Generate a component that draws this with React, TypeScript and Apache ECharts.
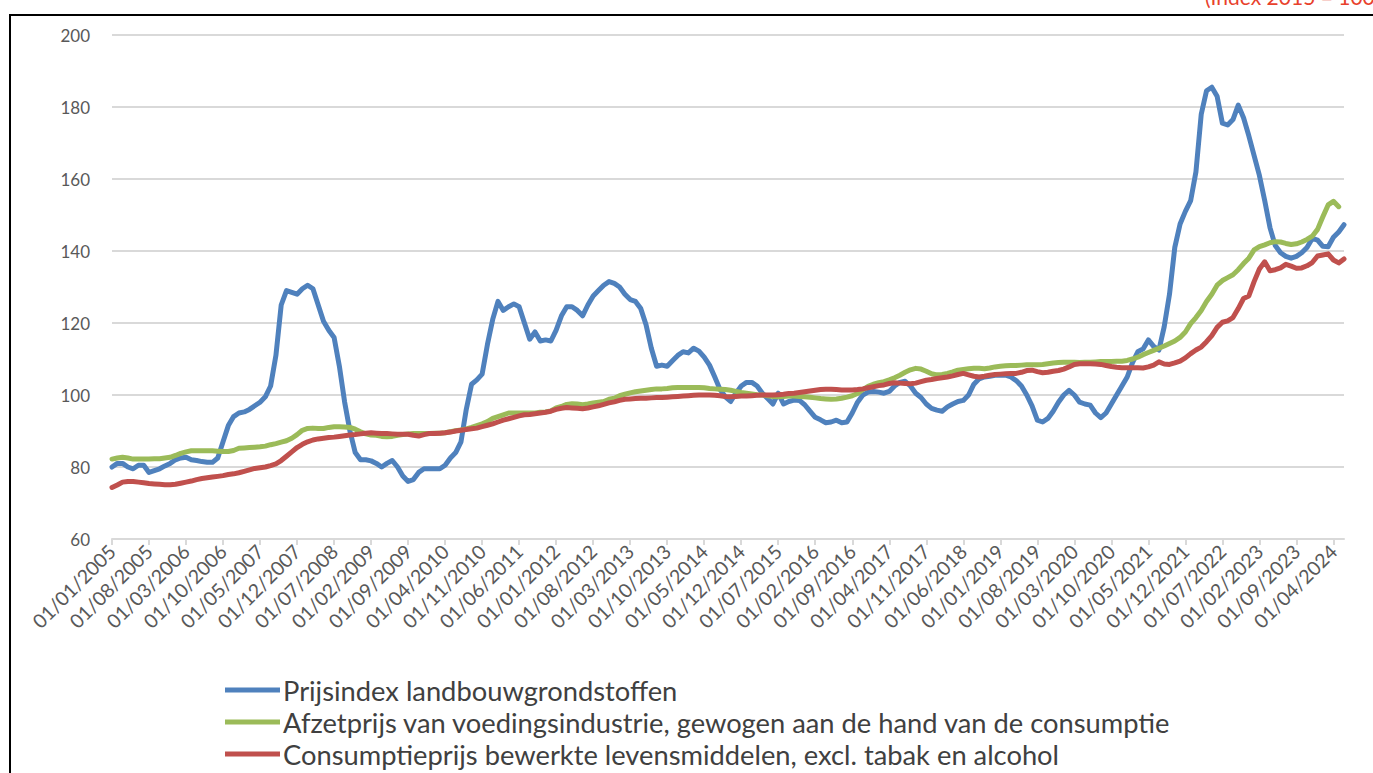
import React, { useEffect, useRef } from "react";
import * as echarts from "echarts";

const startYear = 2005;
const monthCount = 234;
const categories: string[] = Array.from({ length: monthCount }, (_, i) => {
  const m = (i % 12) + 1;
  const y = startYear + Math.floor(i / 12);
  return `01/${m < 10 ? "0" + m : m}/${y}`;
});

const seriesNames = [
  "Prijsindex landbouwgrondstoffen",
  "Afzetprijs van voedingsindustrie, gewogen aan de hand van de consumptie",
  "Consumptieprijs bewerkte levensmiddelen, excl. tabak en alcohol",
];

const landbouw: number[] = [
  80, 81, 81, 80, 79.5, 80.5, 80.5, 78.5, 79, 79.5, 80.3, 81,
  82, 82.5, 82.7, 82, 81.8, 81.5, 81.3, 81.3, 82.5, 87, 91.5, 94,
  95, 95.3, 96, 97, 98, 99.5, 102.5, 111, 125, 129, 128.5, 128,
  129.5, 130.5, 129.5, 125, 120.5, 118, 116, 108, 98, 90, 84, 82,
  82, 81.7, 81, 80, 81, 81.8, 80, 77.5, 76, 76.5, 78.5, 79.5,
  79.5, 79.5, 79.5, 80.5, 82.5, 84, 87, 96, 103, 104.2, 105.8, 114,
  121, 126, 123.5, 124.5, 125.3, 124.5, 120, 115.5, 117.5, 115, 115.3, 115,
  118, 122, 124.5, 124.5, 123.5, 122, 125, 127.5, 129, 130.5, 131.5, 131,
  130, 128, 126.5, 126, 124, 119.5, 113, 108, 108.3, 108, 109.5, 111,
  112, 111.7, 113, 112.2, 110.5, 108.3, 105, 101.5, 99.5, 98.2, 100.5, 102.5,
  103.5, 103.5, 102.5, 100.5, 99, 97.5, 100.5, 97.5, 98.2, 98.6, 98.5, 97.3,
  95.5, 93.8, 93.1, 92.3, 92.5, 93, 92.3, 92.5, 95, 98, 100, 100.8,
  101, 100.8, 100.5, 101, 102.5, 103.5, 103.8, 102.5, 100.5, 99.3, 97.5, 96.3,
  95.8, 95.5, 96.7, 97.5, 98.2, 98.5, 100, 103, 104.5, 105, 105.2, 105.5,
  105.5, 105.5, 105, 104, 102.5, 100, 97, 93, 92.5, 93.5, 95.5, 98,
  100, 101.3, 100, 98, 97.5, 97.2, 95, 93.7, 95, 97.5, 100, 102.5,
  105, 109, 112, 112.8, 115.3, 113.5, 112.5, 119, 128, 141, 147.5, 151,
  154, 162, 178, 184.5, 185.5, 183, 175.5, 175, 176.5, 180.5, 177, 172,
  166.5, 161, 154, 146.5, 141.5, 139.5, 138.5, 138, 138.5, 139.5, 141, 143.5,
  143, 141.3, 141.2, 143.8, 145.3, 147.3,
];

const afzet: (number | null)[] = [
  82.2, 82.5, 82.7, 82.5, 82.2, 82.2, 82.2, 82.2, 82.3, 82.3, 82.5, 82.7,
  83.2, 83.8, 84.2, 84.5, 84.5, 84.5, 84.5, 84.5, 84.4, 84.3, 84.3, 84.6,
  85.2, 85.3, 85.4, 85.5, 85.6, 85.8, 86.2, 86.5, 86.9, 87.3, 88, 89,
  90.2, 90.7, 90.8, 90.7, 90.7, 91, 91.2, 91.2, 91.1, 91, 90.5, 89.8,
  89.2, 88.9, 88.8, 88.5, 88.4, 88.5, 88.8, 89, 89.2, 89.3, 89.3, 89.3,
  89.3, 89.4, 89.4, 89.5, 89.8, 90.1, 90.3, 90.6, 91, 91.5, 92, 92.6,
  93.5, 94, 94.5, 95, 95, 95, 95, 95, 95, 95.2, 95.3, 95.6,
  96.4, 96.8, 97.4, 97.6, 97.5, 97.3, 97.5, 97.8, 98, 98.2, 98.8, 99.1,
  99.8, 100.2, 100.6, 100.9, 101.1, 101.3, 101.5, 101.7, 101.7, 101.8, 102, 102.1,
  102.1, 102.1, 102.1, 102.1, 102, 101.8, 101.7, 101.6, 101.5, 101.3, 101, 100.7,
  100.5, 100.3, 100.1, 100, 99.8, 99.6, 99.5, 99.6, 99.7, 99.7, 99.6, 99.5,
  99.4, 99.2, 99, 98.9, 98.8, 98.9, 99.1, 99.4, 99.8, 100.4, 101.5, 102.4,
  103, 103.4, 103.7, 104.2, 104.8, 105.5, 106.3, 107, 107.4, 107.2, 106.6, 105.9,
  105.6, 105.7, 106, 106.4, 106.9, 107.1, 107.3, 107.4, 107.4, 107.3, 107.5, 107.8,
  108, 108.1, 108.2, 108.2, 108.3, 108.4, 108.4, 108.4, 108.5, 108.7, 108.9, 109,
  109.1, 109.1, 109.1, 109, 109.1, 109.1, 109.2, 109.3, 109.3, 109.3, 109.4, 109.4,
  109.6, 110, 110.5, 111.2, 111.8, 112.4, 113, 113.6, 114.3, 115, 116, 117.5,
  119.8, 121.5, 123.5, 126, 128, 130.5, 131.8, 132.6, 133.4, 134.8, 136.5, 138,
  140.3, 141.2, 141.7, 142.3, 142.6, 142.5, 142.1, 141.8, 142, 142.5, 143.2, 144.1,
  146, 149.5, 152.8, 153.8, 152.3, null,
];

const consumptie: number[] = [
  74.3, 75, 75.8, 76, 76, 75.8, 75.6, 75.4, 75.3, 75.2, 75.1, 75.1,
  75.2, 75.5, 75.8, 76.1, 76.5, 76.8, 77, 77.2, 77.4, 77.6, 77.9, 78.1,
  78.4, 78.8, 79.2, 79.6, 79.8, 80, 80.4, 80.9, 81.8, 83, 84.2, 85.4,
  86.3, 87, 87.5, 87.8, 88, 88.2, 88.3, 88.5, 88.7, 88.9, 89, 89.2,
  89.4, 89.5, 89.4, 89.3, 89.3, 89.2, 89.1, 89.1, 89.1, 88.8, 88.6, 89,
  89.3, 89.3, 89.4, 89.5, 89.7, 90, 90.2, 90.4, 90.6, 90.8, 91.2, 91.6,
  92, 92.5, 93, 93.4, 93.8, 94.2, 94.5, 94.6, 94.8, 95, 95.2, 95.5,
  96, 96.3, 96.5, 96.4, 96.3, 96.2, 96.4, 96.7, 97, 97.4, 97.8, 98.1,
  98.5, 98.8, 98.9, 99, 99.1, 99.1, 99.2, 99.3, 99.3, 99.4, 99.5, 99.6,
  99.7, 99.8, 99.9, 100, 100, 100, 99.9, 99.8, 99.6, 99.5, 99.6, 99.7,
  99.7, 99.8, 99.9, 100, 100, 100, 100.1, 100.2, 100.4, 100.5, 100.7, 100.9,
  101.1, 101.3, 101.5, 101.6, 101.6, 101.5, 101.4, 101.4, 101.4, 101.5, 101.7, 102,
  102.3, 102.6, 102.8, 103.2, 103.4, 103.3, 103.2, 103.1, 103.3, 103.7, 104.1, 104.3,
  104.6, 104.8, 105, 105.3, 105.7, 106, 105.6, 105.2, 105, 105.2, 105.5, 105.7,
  105.8, 105.9, 106, 106, 106.3, 106.8, 106.9, 106.5, 106.2, 106.3, 106.6, 106.8,
  107.2, 107.8, 108.5, 108.7, 108.7, 108.7, 108.6, 108.5, 108.2, 107.9, 107.7, 107.6,
  107.6, 107.6, 107.6, 107.5, 107.8, 108.3, 109.2, 108.6, 108.5, 108.9, 109.4, 110.3,
  111.5, 112.5, 113.3, 114.8, 116.5, 118.8, 120.2, 120.6, 121.5, 124, 126.8, 127.5,
  131.5, 135, 137, 134.5, 134.8, 135.3, 136.3, 135.8, 135.2, 135.3, 135.9, 136.8,
  138.6, 138.9, 139.2, 137.5, 136.7, 137.8,
];

const colors = ["#4f81bd", "#9bbb59", "#c0504d"];
const FONT = "Lato, 'Open Sans', sans-serif";

export default function App() {
  const ref = useRef<HTMLDivElement>(null);
  useEffect(() => {
    if (!ref.current) return;
    const chart = echarts.init(ref.current, null, { renderer: "svg" });
    const mk = (name: string, data: (number | null)[], color: string) => ({
      name,
      type: "line",
      data: data.map((v) => (v === null ? "-" : v)),
      showSymbol: false,
      symbol: "none",
      color,
      lineStyle: { color, width: 5, cap: "round", join: "round" },
    });
    chart.setOption({
      animation: false,
      textStyle: { fontFamily: FONT },
      grid: { left: 112, right: 29, top: 35, bottom: 234, containLabel: false },
      xAxis: {
        type: "category",
        data: categories,
        boundaryGap: false,
        axisLine: { show: true, lineStyle: { color: "#d9d9d9", width: 2 } },
        axisTick: { show: true, interval: 6, length: 6, lineStyle: { color: "#d9d9d9", width: 2 } },
        axisLabel: {
          interval: 6,
          rotate: 45,
          color: "#595959",
          fontSize: 19.5,
          fontFamily: FONT,
          margin: 9,
        },
      },
      yAxis: {
        type: "value",
        min: 60,
        max: 200,
        interval: 20,
        axisLine: { show: false },
        axisTick: { show: false },
        axisLabel: { color: "#595959", fontSize: 17, fontFamily: FONT, margin: 22 },
        splitLine: { lineStyle: { color: "#d9d9d9", width: 2 } },
      },
      legend: {
        orient: "vertical",
        left: 225,
        top: 676,
        padding: 0,
        icon: "rect",
        itemWidth: 55,
        itemHeight: 5,
        itemGap: 4,
        textStyle: { color: "#404040", fontSize: 27.3, fontFamily: FONT, lineHeight: 28, padding: [0, 0, 0, -2] },
        data: seriesNames,
      },
      graphic: [
        {
          type: "rect",
          shape: { x: 10, y: 15, width: 1400, height: 800 },
          style: { fill: "none", stroke: "#000", lineWidth: 2 },
          silent: true,
        },
        {
          type: "text",
          x: 1205,
          y: 7,
          style: {
            text: "(Index 2015 = 100)",
            fill: "#e8412c",
            font: `21px ${FONT}`,
            textVerticalAlign: "bottom",
          },
          silent: true,
        },
      ],
      series: [
        mk(seriesNames[0], landbouw, colors[0]),
        mk(seriesNames[1], afzet, colors[1]),
        mk(seriesNames[2], consumptie, colors[2]),
      ],
    });
    return () => chart.dispose();
  }, []);
  return (
    <div
      ref={ref}
      style={{ position: "fixed", left: 0, top: 0, width: 1373, height: 773, background: "#fff" }}
    />
  );
}
